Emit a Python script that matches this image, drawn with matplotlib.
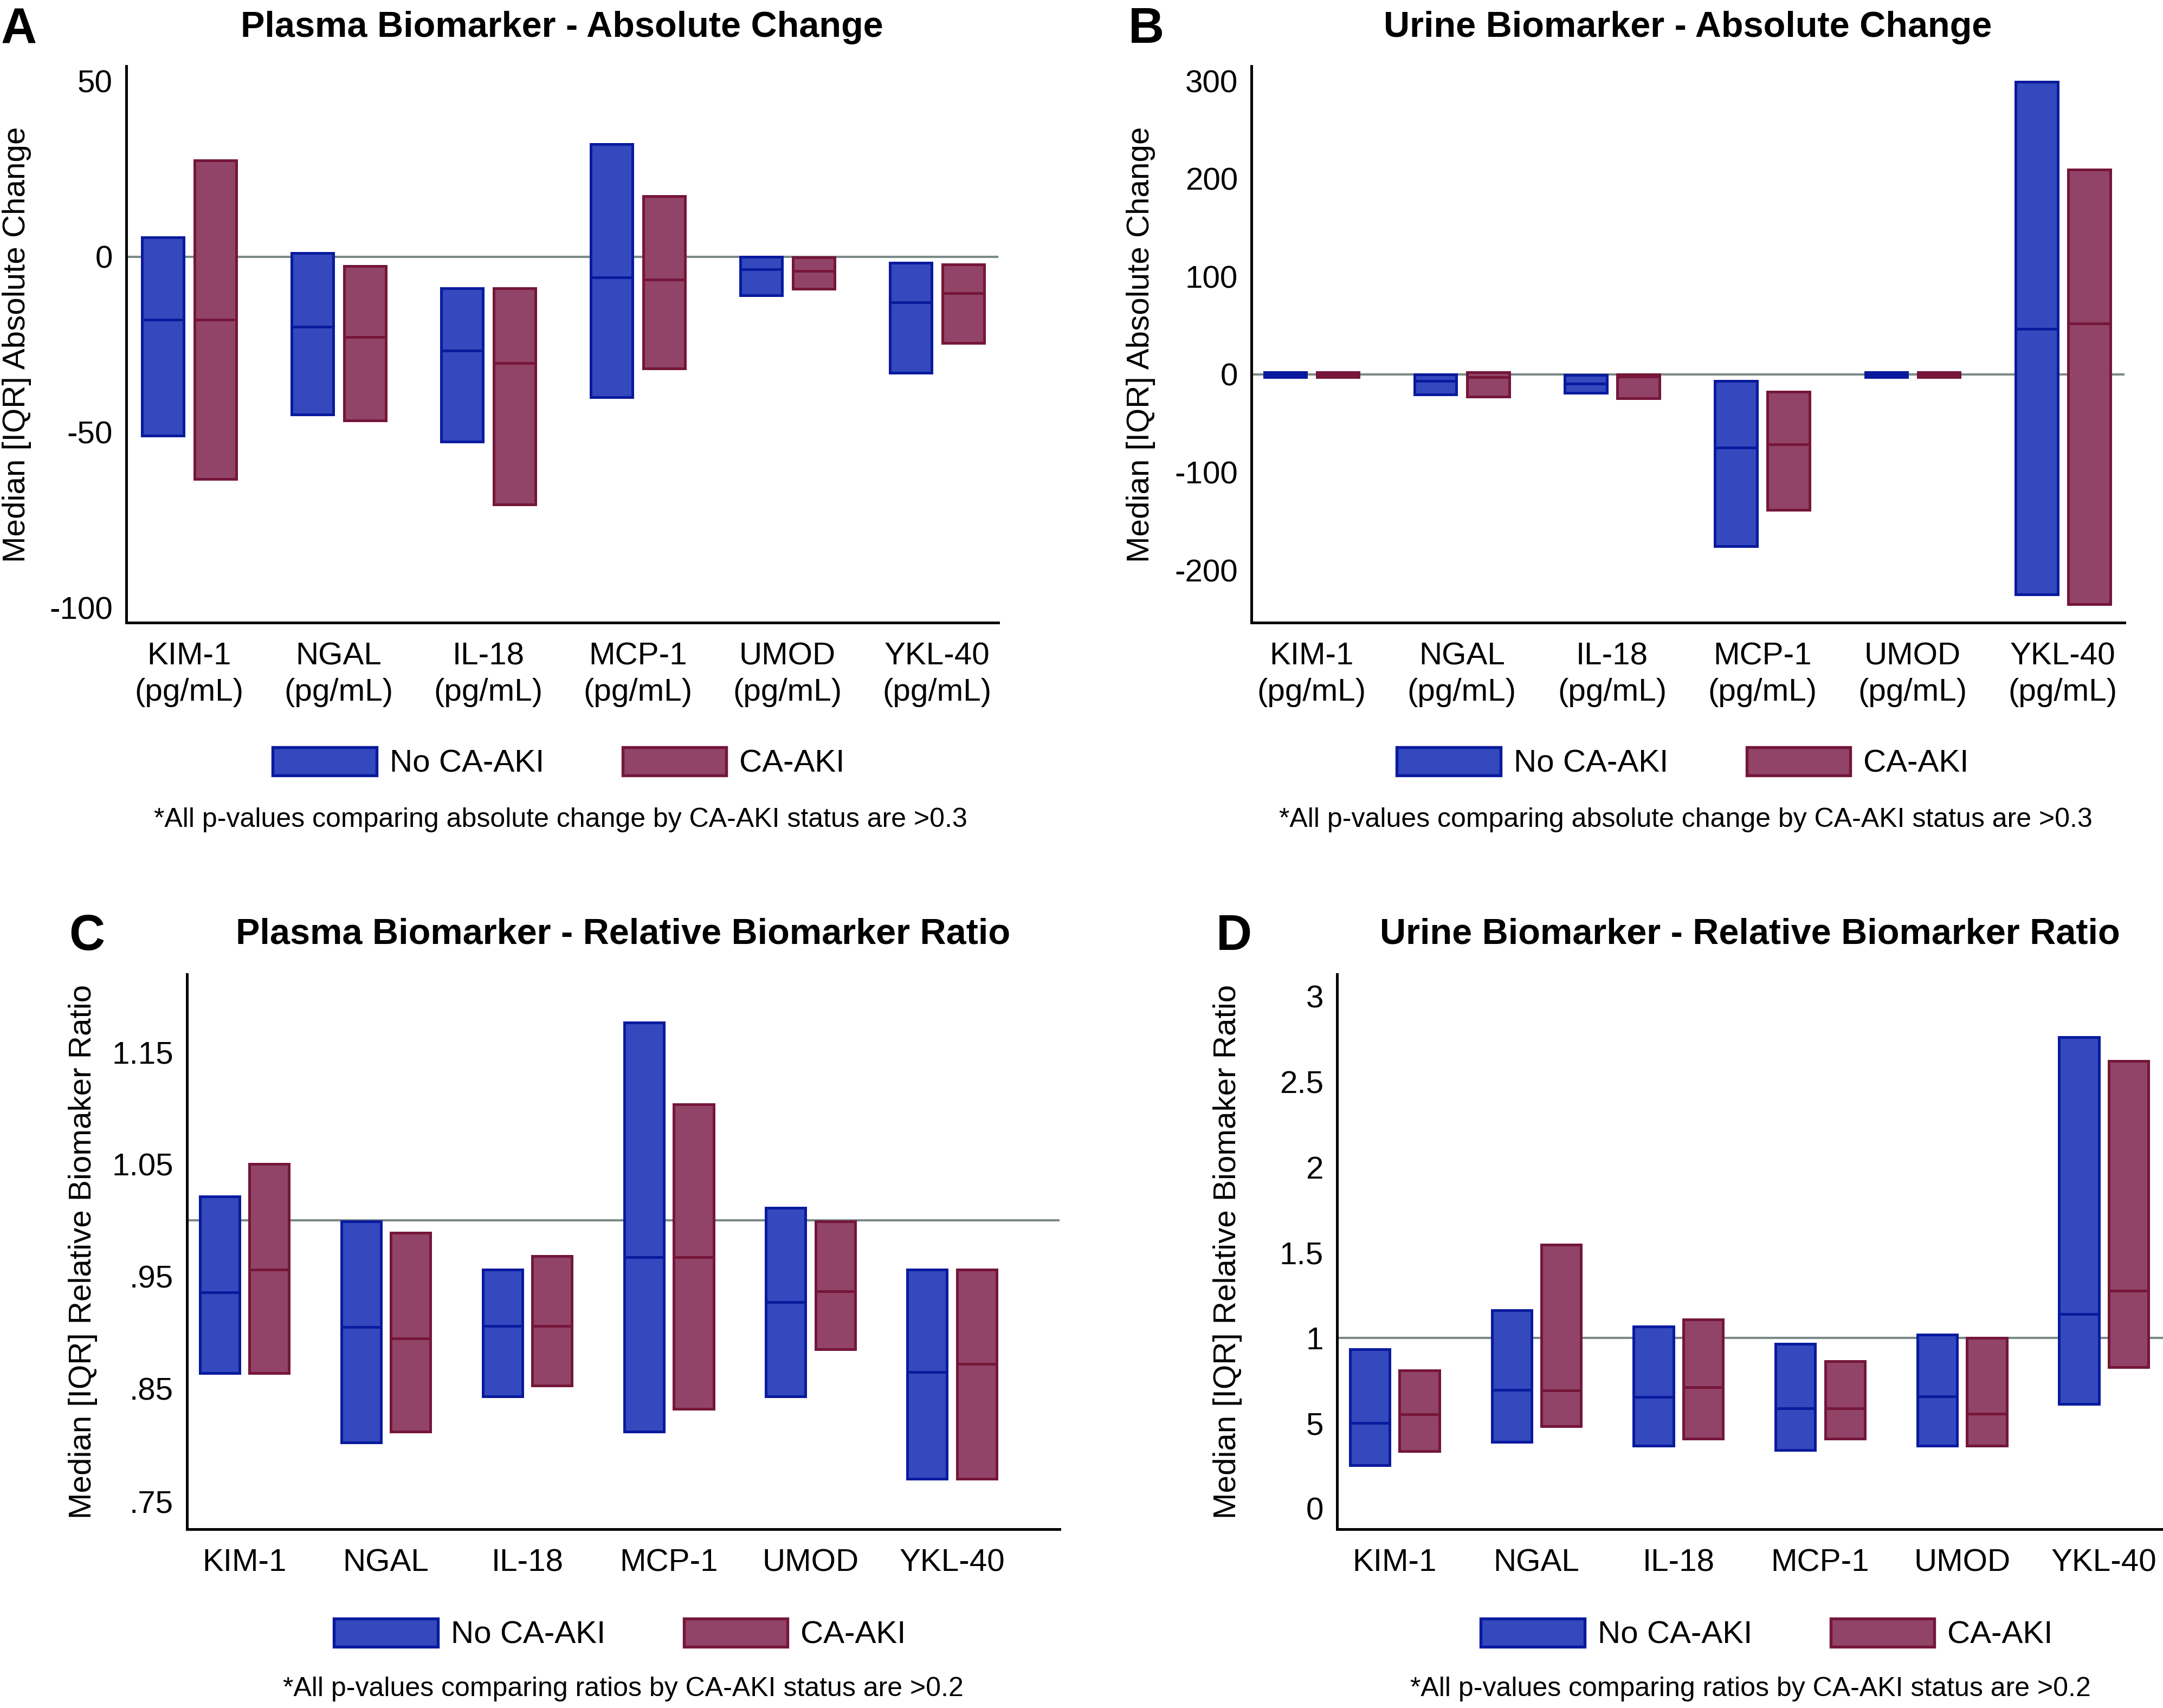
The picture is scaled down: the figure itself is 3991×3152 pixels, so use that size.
import numpy as np
import matplotlib
matplotlib.use("Agg")
import matplotlib.pyplot as plt
from matplotlib.patches import Patch

plt.rcParams['font.family'] = ['Liberation Sans', 'DejaVu Sans']

# data (median and IQR)
markers = ["KIM-1", "NGAL", "IL-18", "MCP-1", "UMOD", "YKL-40"]

# A - plasma, absolute change
pa_no_q1 = [-51.0, -45.0, -52.7, -40.0, -11.0, -33.0]
pa_no_med = [-17.9, -20.0, -26.8, -5.9, -3.5, -13.0]
pa_no_q3 = [5.5, 1.0, -9.0, 32.0, 0.0, -1.7]
pa_aki_q1 = [-63.3, -46.6, -70.6, -31.8, -9.1, -24.6]
pa_aki_med = [-18.0, -22.8, -30.2, -6.5, -4.0, -10.3]
pa_aki_q3 = [27.5, -2.6, -9.0, 17.2, -0.2, -2.2]

# B - urine, absolute change
ua_no_q1 = [-3.0, -20.3, -18.6, -175.4, -3.0, -224.6]
ua_no_med = [-0.5, -6.4, -9.7, -75.0, -0.5, 46.6]
ua_no_q3 = [2.0, 0.0, -0.8, -6.4, 2.0, 299.0]
ua_aki_q1 = [-3.0, -22.5, -24.6, -138.6, -3.0, -234.7]
ua_aki_med = [-0.5, -3.0, -2.5, -71.6, -0.5, 52.0]
ua_aki_q3 = [2.0, 2.0, 0.0, -17.8, 2.0, 209.0]

# C - plasma, relative ratio
pr_no_q1 = [0.864, 0.802, 0.843, 0.812, 0.843, 0.770]
pr_no_med = [0.936, 0.905, 0.906, 0.967, 0.927, 0.865]
pr_no_q3 = [1.021, 0.999, 0.956, 1.176, 1.011, 0.956]
pr_aki_q1 = [0.864, 0.812, 0.853, 0.832, 0.885, 0.770]
pr_aki_med = [0.956, 0.895, 0.906, 0.967, 0.937, 0.872]
pr_aki_q3 = [1.050, 0.989, 0.968, 1.103, 0.999, 0.956]

# D - urine, relative ratio
ur_no_q1 = [0.255, 0.390, 0.369, 0.342, 0.369, 0.612]
ur_no_med = [0.500, 0.694, 0.653, 0.587, 0.658, 1.140]
ur_no_q3 = [0.934, 1.160, 1.066, 0.964, 1.017, 2.760]
ur_aki_q1 = [0.335, 0.483, 0.410, 0.410, 0.369, 0.828]
ur_aki_med = [0.553, 0.692, 0.711, 0.587, 0.556, 1.277]
ur_aki_q3 = [0.810, 1.544, 1.107, 0.862, 1.000, 2.620]

blue_fill, blue_edge = "#3349BD", "#0A1A9E"
red_fill, red_edge = "#914468", "#75163A"
ref_col = "#7A8A88"

W = 3991
H = 3152
fig = plt.figure(figsize=(W / 300, H / 300), dpi=300)


def fx(px):
    return px / W


def fy(px):
    return 1 - px / H


def draw_panel(rect, q1s, meds, q3s, ref, yl, xl, yticks, yticklabels,
               xlabels, ylabel, ylab_x):
    ax = fig.add_axes(rect)
    x = np.arange(len(markers))
    w, off = 0.28, 0.175
    ax.axhline(ref, color=ref_col, lw=1.0, zorder=1)
    for (q1, med, q3), fc, ec, sgn in zip(zip(q1s, meds, q3s),
                                          [blue_fill, red_fill],
                                          [blue_edge, red_edge], [-1, 1]):
        q1 = np.array(q1)
        q3 = np.array(q3)
        xs = x + sgn * off
        ax.bar(xs, q3 - q1, bottom=q1, width=w, color=fc, edgecolor=ec,
               linewidth=1.2, zorder=2)
        ax.hlines(med, xs - w / 2, xs + w / 2, color=ec, lw=1.2, zorder=3)
    ax.set_xlim(*xl)
    ax.set_ylim(*yl)
    ax.set_yticks(yticks, yticklabels)
    ax.set_xticks(x, xlabels)
    for lbl in ax.get_xticklabels():
        lbl.set_linespacing(1.31)
    ax.tick_params(axis='both', length=0, labelsize=14)
    ax.tick_params(axis='y', pad=6)
    ax.tick_params(axis='x', pad=8.5)
    for s in ['top', 'right']:
        ax.spines[s].set_visible(False)
    for s in ['left', 'bottom']:
        ax.spines[s].set_linewidth(1.2)
    ax.set_ylabel(ylabel, fontsize=14)
    ax.yaxis.set_label_coords(ylab_x, 0.5)
    return ax


unit_labels = [m + "\n(pg/mL)" for m in markers]

# axes rectangles in pixels: left, right, top, bottom
rects = {
    'A': (233, 1842, 122, 1149),
    'B': (2309, 3920, 122, 1149),
    'C': (345, 1955, 1798, 2822),
    'D': (2467, 3991, 1798, 2822),
}


def to_rect(r):
    l, rr, t, b = r
    return [fx(l), fy(b), fx(rr) - fx(l), fy(t) - fy(b)]


draw_panel(to_rect(rects['A']), [pa_no_q1, pa_aki_q1], [pa_no_med, pa_aki_med],
           [pa_no_q3, pa_aki_q3], 0, (-104.2, 54.3), (-0.42, 5.41),
           [50, 0, -50, -100], ["50", "0", "-50", "-100"], unit_labels,
           "Median [IQR] Absolute Change", -0.109)
draw_panel(to_rect(rects['B']), [ua_no_q1, ua_aki_q1], [ua_no_med, ua_aki_med],
           [ua_no_q3, ua_aki_q3], 0, (-253.6, 315), (-0.40, 5.41),
           [300, 200, 100, 0, -100, -200],
           ["300", "200", "100", "0", "-100", "-200"], unit_labels,
           "Median [IQR] Absolute Change", -0.110)
draw_panel(to_rect(rects['C']), [pr_no_q1, pr_aki_q1], [pr_no_med, pr_aki_med],
           [pr_no_q3, pr_aki_q3], 1.0, (0.725, 1.219), (-0.406, 5.76),
           [1.15, 1.05, 0.95, 0.85, 0.75], ["1.15", "1.05", ".95", ".85", ".75"],
           markers, "Median [IQR] Relative Biomaker Ratio", -0.1025)
draw_panel(to_rect(rects['D']), [ur_no_q1, ur_aki_q1], [ur_no_med, ur_aki_med],
           [ur_no_q3, ur_aki_q3], 1.0, (-0.121, 3.129), (-0.406, 5.417),
           [3, 2.5, 2, 1.5, 1, 0.5, 0], ["3", "2.5", "2", "1.5", "1", "5", "0"],
           markers, "Median [IQR] Relative Biomaker Ratio", -0.115)

# panel letters and titles
letters = [("A", 2, 79), ("B", 2082, 79), ("C", 127, 1753), ("D", 2244, 1753)]
for t, px, py in letters:
    fig.text(fx(px), fy(py), t, fontsize=22, fontweight='bold',
             ha='left', va='baseline')

titles = [("Plasma Biomarker - Absolute Change", 1037, 68),
          ("Urine Biomarker - Absolute Change", 3114, 68),
          ("Plasma Biomarker - Relative Biomarker Ratio", 1150, 1742),
          ("Urine Biomarker - Relative Biomarker Ratio", 3229, 1742)]
for t, px, py in titles:
    fig.text(fx(px), fy(py), t, fontsize=16, fontweight='bold',
             ha='center', va='baseline')

# legends
handles = [Patch(facecolor=blue_fill, edgecolor=blue_edge, linewidth=1.3),
           Patch(facecolor=red_fill, edgecolor=red_edge, linewidth=1.3)]
leg_pos = [(1031, 1408), (3105, 1408), (1144, 3016), (3260, 3016)]
for px, py in leg_pos:
    fig.legend(handles, ["No CA-AKI", "CA-AKI"], loc='center',
               bbox_to_anchor=(fx(px), fy(py)), ncol=2, frameon=False,
               fontsize=14, handlelength=3.28, handleheight=0.98,
               handletextpad=0.41, columnspacing=2.49, borderpad=0)

# footnotes
notes = [("*All p-values comparing absolute change by CA-AKI status are >0.3", 1034, 1526),
         ("*All p-values comparing absolute change by CA-AKI status are >0.3", 3110, 1526),
         ("*All p-values comparing ratios by CA-AKI status are >0.2", 1150, 3130),
         ("*All p-values comparing ratios by CA-AKI status are >0.2", 3230, 3130)]
for t, px, py in notes:
    fig.text(fx(px), fy(py), t, fontsize=12, ha='center', va='baseline')

fig.savefig("out.png", dpi=300)
